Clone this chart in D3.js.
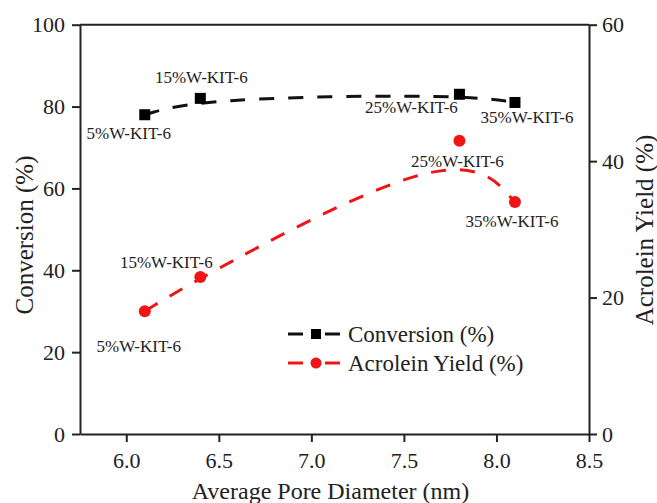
<!DOCTYPE html>
<html>
<head>
<meta charset="utf-8">
<script src="https://cdn.jsdelivr.net/npm/d3@7"></script>
</head>
<body style="margin:0">
<script>
// data
var poreDiameter = [6.1, 6.4, 7.8, 8.1];
var conversion = [78, 82, 83, 81];
var acroleinYield = [18, 23, 43, 34];
var sampleNames = ["5%W-KIT-6", "15%W-KIT-6", "25%W-KIT-6", "35%W-KIT-6"];
var xTicks = [6.0, 6.5, 7.0, 7.5, 8.0, 8.5];
var leftTicks = [0, 20, 40, 60, 80, 100];
var rightTicks = [0, 20, 40, 60];

// label offsets (px) from each point
var convLabelOff = [[-16, 24], [1, -15], [-48, 19], [12, 21]];
var yieldLabelOff = [[-6, 41], [-34, -9], [-2, 26], [-3, 25]];

var w = 657, h = 503;
var plotL = 80, plotR = 589, plotT = 24.7, plotB = 434;
var red = "#f01414";
var ink = "#222";
var serif = "'Times New Roman'";

var svg = d3.select("body").append("svg")
  .attr("width", w).attr("height", h)
  .style("font-family", serif);

var x = d3.scaleLinear().domain([5.75, 8.5]).range([plotL, plotR]);
var yL = d3.scaleLinear().domain([0, 100]).range([plotB, plotT]);
var yR = d3.scaleLinear().domain([0, 60]).range([plotB, plotT]);

function font(sel, size) {
  return sel
    .style("font-family", serif)
    .attr("font-size", size)
    .attr("fill", ink);
}

function styleAxis(g) {
  g.attr("font-family", null).style("font-family", serif);
  g.select(".domain").attr("stroke", ink).attr("stroke-width", 2);
  g.selectAll(".tick line").attr("stroke", ink).attr("stroke-width", 2);
  font(g.selectAll(".tick text"), 22);
}

// top border
svg.append("line")
  .attr("x1", plotL).attr("x2", plotR).attr("y1", plotT).attr("y2", plotT)
  .attr("stroke", ink).attr("stroke-width", 2);

svg.append("g").attr("transform", "translate(0," + plotB + ")")
  .call(d3.axisBottom(x).tickValues(xTicks).tickFormat(d3.format(".1f"))
    .tickSize(8).tickPadding(10).tickSizeOuter(0))
  .call(styleAxis);

svg.append("g").attr("transform", "translate(" + plotL + ",0)")
  .call(d3.axisLeft(yL).tickValues(leftTicks).tickSize(8).tickPadding(7).tickSizeOuter(0))
  .call(styleAxis);

svg.append("g").attr("transform", "translate(" + plotR + ",0)")
  .call(d3.axisRight(yR).tickValues(rightTicks).tickSize(8).tickPadding(5).tickSizeOuter(0))
  .call(styleAxis);

// axis titles
font(svg.append("text"), 24)
  .attr("x", (plotL + plotR) / 2 - 4).attr("y", 499)
  .attr("text-anchor", "middle")
  .text("Average Pore Diameter (nm)");

font(svg.append("text"), 25)
  .attr("transform", "translate(33,235) rotate(-90)")
  .attr("text-anchor", "middle")
  .text("Conversion (%)");

font(svg.append("text"), 25)
  .attr("transform", "translate(653,230) rotate(-90)")
  .attr("text-anchor", "middle")
  .text("Acrolein Yield (%)");

var convPts = poreDiameter.map(function (d, i) { return [d, conversion[i]]; });
var yieldPts = poreDiameter.map(function (d, i) { return [d, acroleinYield[i]]; });

var convLine = d3.line()
  .x(function (d) { return x(d[0]); })
  .y(function (d) { return yL(d[1]); })
  .curve(d3.curveBasis);
var yieldLine = d3.line()
  .x(function (d) { return x(d[0]); })
  .y(function (d) { return yR(d[1]); })
  .curve(d3.curveBasis);

svg.append("path").attr("d", convLine(convPts))
  .attr("fill", "none").attr("stroke", "#111").attr("stroke-width", 3)
  .attr("stroke-dasharray", "15,14");
svg.append("path").attr("d", yieldLine(yieldPts))
  .attr("fill", "none").attr("stroke", red).attr("stroke-width", 3)
  .attr("stroke-dasharray", "15,14");

svg.selectAll("rect.conv")
  .data(convPts)
  .enter()
  .append("rect")
  .attr("class", "conv")
  .attr("x", function (d) { return x(d[0]) - 5.5; })
  .attr("y", function (d) { return yL(d[1]) - 5.5; })
  .attr("width", 11).attr("height", 11)
  .attr("fill", "#000");

svg.selectAll("circle.yield")
  .data(yieldPts)
  .enter()
  .append("circle")
  .attr("class", "yield")
  .attr("cx", function (d) { return x(d[0]); })
  .attr("cy", function (d) { return yR(d[1]); })
  .attr("r", 6)
  .attr("fill", red);

// sample labels
font(svg.selectAll("text.convlab")
  .data(convPts)
  .enter()
  .append("text")
  .attr("class", "convlab"), 17)
  .attr("x", function (d, i) { return x(d[0]) + convLabelOff[i][0]; })
  .attr("y", function (d, i) { return yL(d[1]) + convLabelOff[i][1]; })
  .attr("text-anchor", "middle")
  .text(function (d, i) { return sampleNames[i]; });

font(svg.selectAll("text.yieldlab")
  .data(yieldPts)
  .enter()
  .append("text")
  .attr("class", "yieldlab"), 17)
  .attr("x", function (d, i) { return x(d[0]) + yieldLabelOff[i][0]; })
  .attr("y", function (d, i) { return yR(d[1]) + yieldLabelOff[i][1]; })
  .attr("text-anchor", "middle")
  .text(function (d, i) { return sampleNames[i]; });

// legend
var legend = svg.append("g").attr("transform", "translate(288,0)");
legend.append("line").attr("x1", 0).attr("x2", 52).attr("y1", 334).attr("y2", 334)
  .attr("stroke", "#111").attr("stroke-width", 3).attr("stroke-dasharray", "15,22,15");
legend.append("rect").attr("x", 23).attr("y", 329).attr("width", 10).attr("height", 10).attr("fill", "#000");
font(legend.append("text"), 23).attr("x", 60).attr("y", 342).text("Conversion (%)");

legend.append("line").attr("x1", 0).attr("x2", 52).attr("y1", 363).attr("y2", 363)
  .attr("stroke", red).attr("stroke-width", 3).attr("stroke-dasharray", "15,22,15");
legend.append("circle").attr("cx", 28).attr("cy", 363).attr("r", 5.5).attr("fill", red);
font(legend.append("text"), 23).attr("x", 60).attr("y", 371).text("Acrolein Yield (%)");
</script>
</body>
</html>
